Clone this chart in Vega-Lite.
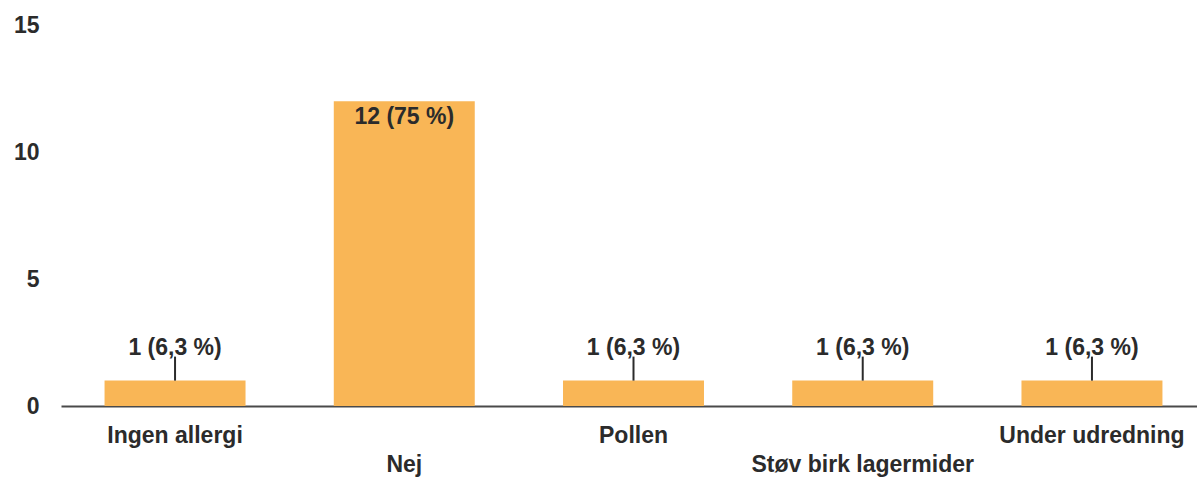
{
  "$schema": "https://vega.github.io/schema/vega-lite/v6.json",
  "autosize": {"type": "none"},
  "width": 1145,
  "height": 381,
  "padding": {"left": 61, "top": 25, "right": 0, "bottom": 78},
  "background": "white",
  "config": {
    "view": {"stroke": null},
    "font": "Liberation Sans",
    "axis": {"labelFont": "Liberation Sans", "labelColor": "#2b2b2b", "labelFontSize": 23, "labelFontWeight": "bold", "labelLimit": 0}
  },
  "data": {
    "values": [
      {"kategori": "Ingen allergi", "antal": 1, "tekst": "1 (6,3 %)"},
      {"kategori": "Nej", "antal": 12, "tekst": "12 (75 %)"},
      {"kategori": "Pollen", "antal": 1, "tekst": "1 (6,3 %)"},
      {"kategori": "Støv birk lagermider", "antal": 1, "tekst": "1 (6,3 %)"},
      {"kategori": "Under udredning", "antal": 1, "tekst": "1 (6,3 %)"}
    ]
  },
  "encoding": {
    "x": {
      "field": "kategori",
      "type": "nominal",
      "sort": null,
      "scale": {"paddingInner": 0.385, "paddingOuter": 0.19},
      "axis": {
        "title": null,
        "labelAngle": 0,
        "ticks": false,
        "domainColor": "#4a4a4a",
        "domainWidth": 2,
        "labelPadding": {"condition": {"test": "datum.value === 'Nej' || datum.value === 'Støv birk lagermider'", "value": 47}, "value": 18},
        "labelBaseline": "top"
      }
    },
    "y": {
      "field": "antal",
      "type": "quantitative",
      "scale": {"domain": [0, 15], "nice": false},
      "axis": {
        "title": null,
        "values": [0, 5, 10, 15],
        "grid": false,
        "domain": false,
        "ticks": false,
        "labelPadding": 22
      }
    }
  },
  "layer": [
    {"mark": {"type": "bar", "color": "#F9B656"}},
    {
      "transform": [{"filter": "datum.antal < 5"}],
      "mark": {"type": "tick", "orient": "vertical", "color": "#2b2b2b", "opacity": 1, "thickness": 2, "size": 24, "yOffset": -12}
    },
    {
      "transform": [{"filter": "datum.antal < 5"}],
      "mark": {"type": "text", "fontSize": 23, "fontWeight": "bold", "color": "#2b2b2b", "dy": -33, "baseline": "middle"},
      "encoding": {"text": {"field": "tekst"}}
    },
    {
      "transform": [{"filter": "datum.antal >= 5"}],
      "mark": {"type": "text", "fontSize": 23, "fontWeight": "bold", "color": "#2b2b2b", "dy": 16, "baseline": "middle"},
      "encoding": {"text": {"field": "tekst"}}
    }
  ]
}
